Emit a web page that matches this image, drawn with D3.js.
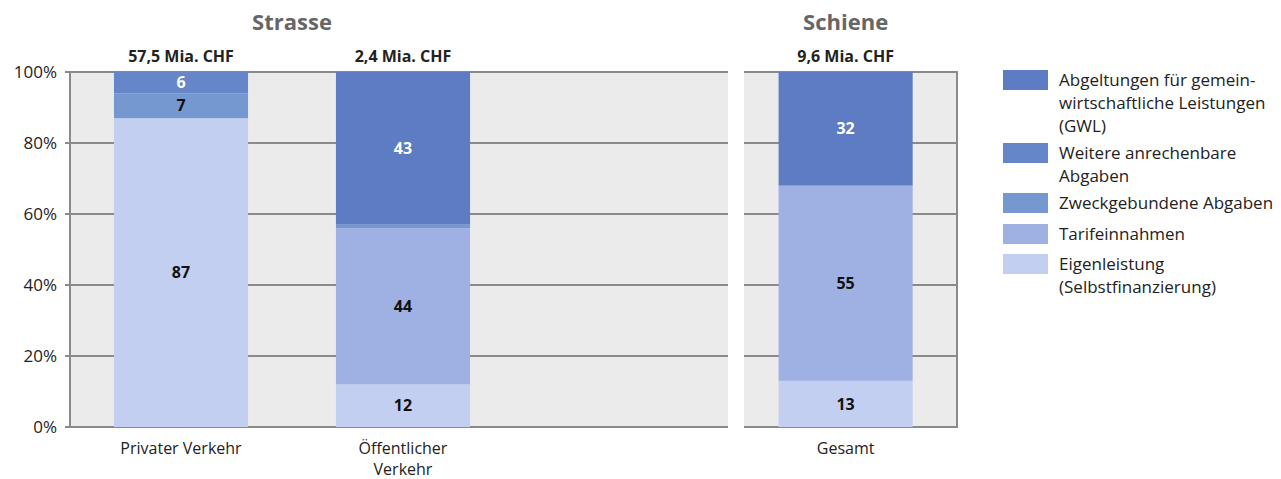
<!DOCTYPE html>
<html>
<head>
<meta charset="utf-8">
<script src="https://cdn.jsdelivr.net/npm/d3@7"></script>
<style>
  body { margin: 0; background: #fff; }
  svg text { font-family: "Open Sans", "Noto Sans", sans-serif; }
</style>
</head>
<body>
<svg id="chart" width="1281" height="479"></svg>
<script>
// data
let categories = ["Privater Verkehr", "Öffentlicher Verkehr", "Gesamt"]
let categoryLines = [["Privater Verkehr"], ["Öffentlicher", "Verkehr"], ["Gesamt"]]
let totals = ["57,5 Mia. CHF", "2,4 Mia. CHF", "9,6 Mia. CHF"]
let groups = ["Strasse", "Schiene"]
let eigenleistung = [87, 12, 13]
let tarifeinnahmen = [0, 44, 55]
let zweckgebunden = [7, 1, 0]
let weitere = [6, 0, 0]
let gwl = [0, 43, 32]
let seriesNames = ["Eigenleistung (Selbstfinanzierung)", "Tarifeinnahmen", "Zweckgebundene Abgaben",
    "Weitere anrechenbare Abgaben", "Abgeltungen für gemeinwirtschaftliche Leistungen (GWL)"]
let legendLines = [["Eigenleistung", "(Selbstfinanzierung)"], ["Tarifeinnahmen"], ["Zweckgebundene Abgaben"],
    ["Weitere anrechenbare", "Abgaben"], ["Abgeltungen für gemein-", "wirtschaftliche Leistungen", "(GWL)"]]
let colors = ["#c2cff0", "#9fb1e3", "#7698d1", "#6587c9", "#5e7cc4"]
let labelColors = ["#111", "#111", "#111", "#fff", "#fff"]
let yTicks = [0, 20, 40, 60, 80, 100]

let table = categories.map(function (c, i) {
    return { cat: c, s0: eigenleistung[i], s1: tarifeinnahmen[i], s2: zweckgebunden[i], s3: weitere[i], s4: gwl[i] }
})
let keys = ["s0", "s1", "s2", "s3", "s4"]
let stacked = d3.stack().keys(keys)(table)

let svg = d3.select("#chart")

let plot = { top: 72, bottom: 427 }
let y = d3.scaleLinear().domain([0, 100]).range([plot.bottom, plot.top])

// two panels: road and rail
let xLeft = d3.scaleBand().domain([categories[0], categories[1], "_"]).range([70, 728])
    .paddingInner(0.396).paddingOuter(0.18).align(0.55)
let xRight = d3.scaleBand().domain([categories[2]]).range([744, 957])
    .paddingInner(0.396).paddingOuter(0.174).align(0.41)
function xPos(cat) { return cat == categories[2] ? xRight(cat) : xLeft(cat) }
let bw = xLeft.bandwidth()

let panels = [[70, 728, false], [744, 957, true]]
panels.forEach(function (p) {
    svg.append("rect").attr("x", p[0]).attr("y", plot.top).attr("width", p[1] - p[0])
        .attr("height", plot.bottom - plot.top).attr("fill", "#ebebeb")
    svg.append("g").selectAll("line").data(yTicks).enter().append("line")
        .attr("x1", p[0]).attr("x2", p[1])
        .attr("y1", function (d) { return y(d) }).attr("y2", function (d) { return y(d) })
        .attr("stroke", "#8a8a8a").attr("stroke-width", 2)
    if (p[2]) {
        svg.append("line").attr("x1", p[1]).attr("x2", p[1]).attr("y1", plot.top - 1).attr("y2", plot.bottom + 1)
            .attr("stroke", "#8a8a8a").attr("stroke-width", 2)
    }
})

// bars
let layers = svg.append("g").selectAll("g").data(stacked).enter().append("g")
    .attr("fill", function (d, i) { return colors[i] })
layers.selectAll("rect").data(function (d) { return d }).enter().append("rect")
    .attr("x", function (d) { return xPos(d.data.cat) })
    .attr("width", bw)
    .attr("y", function (d) { return y(d[1]) })
    .attr("height", function (d) { return y(d[0]) - y(d[1]) })

// segment labels
stacked.forEach(function (layer, i) {
    svg.append("g").selectAll("text").data(layer.filter(function (d) { return d[1] - d[0] >= 3 })).enter()
        .append("text")
        .attr("x", function (d) { return xPos(d.data.cat) + bw / 2 })
        .attr("y", function (d) { return y((d[0] + d[1]) / 2) })
        .attr("dy", "0.35em")
        .attr("text-anchor", "middle")
        .attr("font-size", "16px").attr("font-weight", "bold")
        .attr("fill", labelColors[i])
        .text(function (d) { return d[1] - d[0] })
})

// y axis
svg.append("line").attr("x1", 70).attr("x2", 70).attr("y1", plot.top - 1).attr("y2", plot.bottom + 1)
    .attr("stroke", "#8a8a8a").attr("stroke-width", 2)
svg.append("g").selectAll("line").data(yTicks).enter().append("line")
    .attr("x1", 65).attr("x2", 70)
    .attr("y1", function (d) { return y(d) }).attr("y2", function (d) { return y(d) })
    .attr("stroke", "#8a8a8a").attr("stroke-width", 2)
svg.append("g").selectAll("text").data(yTicks).enter().append("text")
    .attr("x", 57).attr("y", function (d) { return y(d) }).attr("dy", "0.35em")
    .attr("text-anchor", "end").attr("font-size", "17px").attr("fill", "#222")
    .text(function (d) { return d + "%" })

// category labels
categories.forEach(function (c, i) {
    let t = svg.append("text").attr("text-anchor", "middle").attr("font-size", "16px").attr("fill", "#222")
    categoryLines[i].forEach(function (line, j) {
        t.append("tspan").attr("x", xPos(c) + bw / 2).attr("y", 454 + j * 21).text(line)
    })
    svg.append("text").attr("x", xPos(c) + bw / 2).attr("y", 62).attr("text-anchor", "middle")
        .attr("font-size", "16px").attr("font-weight", "bold").attr("fill", "#222").text(totals[i])
})

// group titles
let groupX = [(xPos(categories[0]) + xPos(categories[1]) + bw) / 2, xPos(categories[2]) + bw / 2]
groups.forEach(function (g, i) {
    svg.append("text").attr("x", groupX[i]).attr("y", 30).attr("text-anchor", "middle")
        .attr("font-size", "22px").attr("font-weight", "bold").attr("fill", "#666").text(g)
})

// legend
let legendY = [70, 143, 193, 224, 254]
let legendOrder = [4, 3, 2, 1, 0]
legendOrder.forEach(function (s, k) {
    svg.append("rect").attr("x", 1003).attr("y", legendY[k]).attr("width", 45).attr("height", 20)
        .attr("fill", colors[s])
    let t = svg.append("text").attr("font-size", "17px").attr("fill", "#222")
    legendLines[s].forEach(function (line, j) {
        t.append("tspan").attr("x", 1059).attr("y", legendY[k] + 16 + j * 23).text(line)
    })
})
</script>
</body>
</html>
